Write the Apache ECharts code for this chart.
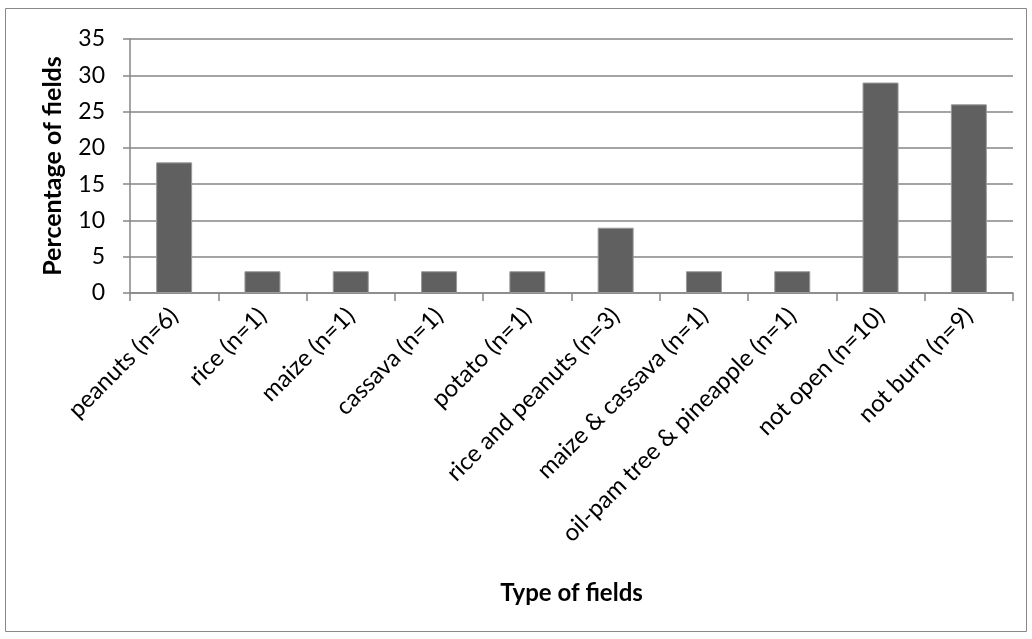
<!DOCTYPE html>
<html><head><meta charset="utf-8">
<script src="https://cdn.jsdelivr.net/npm/echarts@6/dist/echarts.min.js"></script>
<style>html,body{margin:0;padding:0;background:#fff}#c{width:1032px;height:639px}</style>
</head><body><div id="c"></div>
<script>
const categories = ["peanuts (n=6)","rice (n=1)","maize (n=1)","cassava (n=1)","potato (n=1)","rice and peanuts (n=3)","maize & cassava (n=1)","oil-pam tree & pineapple (n=1)","not open (n=10)","not burn (n=9)"];
const values = [18,3,3,3,3,9,3,3,29,26];
const yTicks = {min:0,max:35,interval:5};
const xTitle = "Type of fields";
const yTitle = "Percentage of fields";

const font = "Lato, 'Open Sans', sans-serif";
const chart = echarts.init(document.getElementById('c'));
chart.setOption({
  animation:false,
  graphic:[{type:'rect',shape:{x:5.5,y:8.5,width:1021,height:623},style:{fill:'none',stroke:'#888888',lineWidth:1},z:-1}],
  grid:{left:130,right:19,top:39,bottom:346,containLabel:false},
  xAxis:{type:'category',data:categories,
    name:xTitle,nameLocation:'middle',nameGap:288,
    nameTextStyle:{fontFamily:font,fontSize:24,fontWeight:'bold',color:'#000'},
    axisLine:{lineStyle:{color:'#868686',width:1.5}},
    axisTick:{show:true,length:8,lineStyle:{color:'#868686',width:1.5}},
    axisLabel:{rotate:45,interval:0,margin:19,fontFamily:font,fontSize:24,color:'#000'}},
  yAxis:{type:'value',min:yTicks.min,max:yTicks.max,interval:yTicks.interval,
    name:yTitle,nameLocation:'middle',nameGap:65,
    nameTextStyle:{fontFamily:font,fontSize:25,fontWeight:'bold',color:'#000'},
    axisLine:{show:true,lineStyle:{color:'#868686',width:1.5}},
    axisTick:{show:true,length:7,lineStyle:{color:'#868686',width:1.5}},
    splitLine:{lineStyle:{color:'#868686',width:1.5}},
    axisLabel:{margin:25,fontFamily:font,fontSize:23,color:'#000'}},
  series:[{type:'bar',data:values,barWidth:36,
    itemStyle:{color:'#606060',borderColor:'#9a9a9a',borderWidth:1}}]
});
</script></body></html>
